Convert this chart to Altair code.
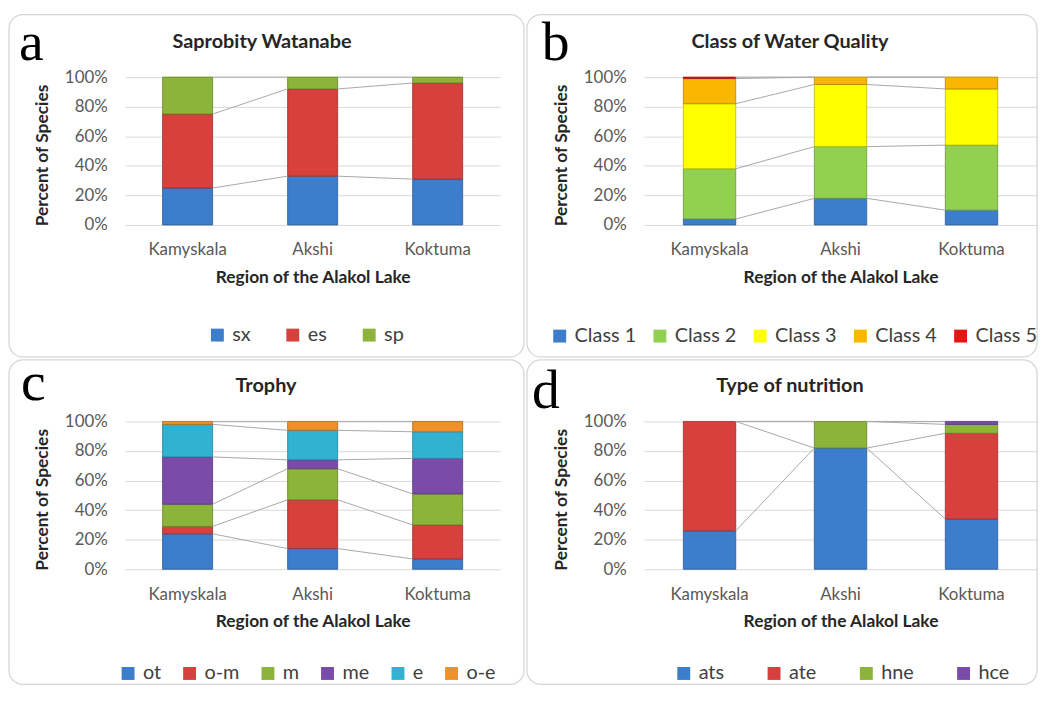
import altair as alt
import pandas as pd

regions = ["Kamyskala", "Akshi", "Koktuma"]

# Panel a: Saprobity Watanabe (percent of species)
a_series = ["sx", "es", "sp"]
a_sx = [25, 33, 31]
a_es = [50, 59, 65]
a_sp = [25, 8, 4]
a_colors = ["#3c7dcc", "#d7403c", "#8db43a"]

# Panel b: Class of Water Quality
b_series = ["Class 1", "Class 2", "Class 3", "Class 4", "Class 5"]
b_class1 = [4, 18, 10]
b_class2 = [34, 35, 44]
b_class3 = [44, 42, 38]
b_class4 = [17, 5, 8]
b_class5 = [1, 0, 0]
b_colors = ["#3c7dcc", "#92d050", "#ffff00", "#f9b700", "#e81414"]

# Panel c: Trophy
c_series = ["ot", "o-m", "m", "me", "e", "o-e"]
c_ot = [24, 14, 7]
c_om = [5, 33, 23]
c_m = [15, 21, 21]
c_me = [32, 6, 24]
c_e = [22, 20, 18]
c_oe = [2, 6, 7]
c_colors = ["#3c7dcc", "#d7403c", "#8db43a", "#7a4ba8", "#31b2d2", "#f0902a"]

# Panel d: Type of nutrition
d_series = ["ats", "ate", "hne", "hce"]
d_ats = [26, 82, 34]
d_ate = [74, 0, 58]
d_hne = [0, 18, 6]
d_hce = [0, 0, 2]
d_colors = ["#3c7dcc", "#d7403c", "#8db43a", "#7a4ba8"]

FONT = "Lato"


def darker(hexc, f=0.72):
    h = hexc.lstrip("#")
    r, g, b = (int(h[i:i + 2], 16) for i in (0, 2, 4))
    return "#%02x%02x%02x" % (int(r * f), int(g * f), int(b * f))


def panel(title, letter, series, values, colors, w, h, box, title_xy,
          letter_xy, legend_xy, col_pad):
    rows = []
    for i, r in enumerate(regions):
        cum = 0
        for k, s in enumerate(series):
            v = values[k][i]
            if v > 0:
                rows.append(dict(region=r, series=s, lo=cum, hi=cum + v))
            cum += v
    df = pd.DataFrame(rows)

    seg = []
    for k, s in enumerate(series):
        for i in range(len(regions) - 1):
            ya = sum(values[j][i] for j in range(k + 1))
            yb = sum(values[j][i + 1] for j in range(k + 1))
            seg.append(dict(region=regions[i], region_next=regions[i + 1],
                            series=s, lo=ya, yb=yb))
    dseg = pd.DataFrame(seg)

    one = alt.Data(values=[{}])

    border = alt.Chart(one).mark_rect(
        cornerRadius=14, fill="transparent", stroke="#d6d6d6", strokeWidth=1.3
    ).encode(x=alt.value(box[0]), x2=alt.value(box[1]),
             y=alt.value(box[2]), y2=alt.value(box[3]))

    xaxis = alt.Axis(labelAngle=0, domain=False, ticks=False, labelPadding=17,
                     labelFont=FONT, labelFontSize=17, labelColor="#595959",
                     titleFont=FONT, titleFontSize=17.5, titleFontWeight="bold",
                     titleColor="#262626", titleX=w / 2, titleY=53,
                     titleAlign="center", titleBaseline="middle")
    yaxis = alt.Axis(values=[0, 20, 40, 60, 80, 100],
                     labelExpr="datum.value + '%'", grid=True,
                     gridColor="#d9d9d9", domain=False, ticks=False,
                     labelOverlap=False, labelSeparation=0,
                     labelPadding=18, labelFont=FONT, labelFontSize=17,
                     labelColor="#595959", titleFont=FONT, titleFontSize=17.5,
                     titleFontWeight="bold", titleColor="#262626",
                     titleX=-83, titleY=h / 2 + 4, titleAngle=270,
                     titleAlign="center", titleBaseline="middle")
    xscale = alt.Scale(domain=regions, paddingInner=0, paddingOuter=0)
    yscale = alt.Scale(domain=[0, 100])

    bars = alt.Chart(df).mark_bar(
        width=alt.RelativeBandSize(0.4), strokeWidth=0.8
    ).encode(
        x=alt.X("region:N", scale=xscale, axis=xaxis,
                title="Region of the Alakol Lake"),
        y=alt.Y("lo:Q", scale=yscale, axis=yaxis, title="Percent of Species"),
        y2="hi:Q",
        color=alt.Color(
            "series:N",
            scale=alt.Scale(domain=series, range=colors),
            legend=alt.Legend(orient="none", legendX=legend_xy[0],
                              legendY=legend_xy[1], direction="horizontal",
                              columns=len(series), title=None,
                              symbolType="square", symbolSize=169,
                              symbolStrokeWidth=0, labelFont=FONT,
                              labelFontSize=20, labelColor="#404040",
                              labelOffset=5, columnPadding=col_pad, padding=0),
        ),
        stroke=alt.Stroke("series:N",
                          scale=alt.Scale(domain=series,
                                          range=[darker(c) for c in colors]),
                          legend=None),
    )

    lines = alt.Chart(dseg).mark_rule(color="#a8a8a8", strokeWidth=1).encode(
        x=alt.X("region:N", bandPosition=0.7, scale=xscale, axis=xaxis,
                title="Region of the Alakol Lake"),
        x2=alt.X2("region_next", bandPosition=0.3),
        y=alt.Y("lo:Q", scale=yscale, axis=yaxis, title="Percent of Species"),
        y2="yb:Q",
    )

    ttl = alt.Chart(one).mark_text(
        text=title, font=FONT, fontSize=20, fontWeight="bold", color="#262626",
        align="center", baseline="middle"
    ).encode(x=alt.value(title_xy[0]), y=alt.value(title_xy[1]))

    let = alt.Chart(one).mark_text(
        text=letter, font="Liberation Serif", fontSize=56, color="black",
        align="left", baseline="alphabetic"
    ).encode(x=alt.value(letter_xy[0]), y=alt.value(letter_xy[1]))

    return alt.layer(border, bars, lines, ttl, let).properties(
        width=w, height=h
    ).resolve_scale(color="independent", stroke="independent")


pa = panel("Saprobity Watanabe", "a", a_series, [a_sx, a_es, a_sp], a_colors,
           378, 149, (-117, 402, -63, 282), (138, -35), (-107, -17), (83, 250), 32)
pb = panel("Class of Water Quality", "b", b_series,
           [b_class1, b_class2, b_class3, b_class4, b_class5], b_colors,
           396, 149, (-118, 396, -63, 282), (147, -35), (-103, -17), (-95, 251), 13)
pc = panel("Trophy", "c", c_series, [c_ot, c_om, c_m, c_me, c_e, c_oe], c_colors,
           378, 149, (-117, 402, -62, 265), (142, -36), (-105, -22), (-7, 244), 18)
pd_ = panel("Type of nutrition", "d", d_series, [d_ats, d_ate, d_hne, d_hce],
            d_colors, 396, 149, (-118, 396, -62, 265), (147, -36), (-113, -14),
            (30, 244), 40)

chart = alt.concat(
    pa, pb, pc, pd_, columns=2,
    spacing={"row": 198, "column": 145},
    bounds="flush", align="each",
).resolve_scale(
    color="independent", stroke="independent", x="independent", y="independent"
).properties(
    padding={"left": 0, "top": 3, "right": 0, "bottom": 0},
    background="white",
).configure_view(stroke=None).configure_axis(labelOverlap=False)

chart.save("out.html", embed_options={"renderer": "svg", "actions": False})
